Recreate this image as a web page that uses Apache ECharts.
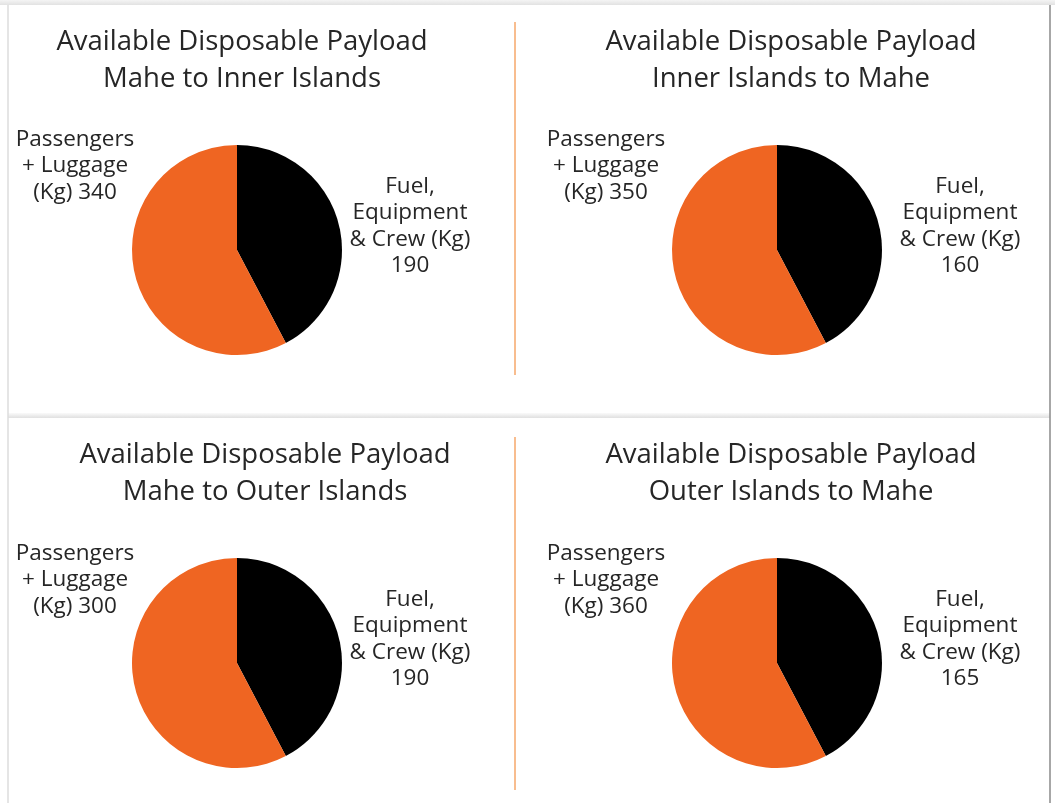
<!DOCTYPE html>
<html>
<head>
<meta charset="utf-8">
<script src="https://cdn.jsdelivr.net/npm/echarts@6/dist/echarts.min.js"></script>
<style>
html, body { margin: 0; padding: 0; background: #fff; }
#main { width: 1055px; height: 803px; }
</style>
</head>
<body>
<div id="main"></div>
<script>
// chart data
var titleLine1 = ['Available Disposable Payload', 'Available Disposable Payload', 'Available Disposable Payload', 'Available Disposable Payload'];
var titleLine2 = ['Mahe to Inner Islands', 'Inner Islands to Mahe', 'Mahe to Outer Islands', 'Outer Islands to Mahe'];
var passengerKg = [340, 350, 300, 360];
var fuelKg = [190, 160, 190, 165];
// slice sizes as drawn in the picture (percent of the pie)
var fuelShare = [42.3, 42.3, 42.3, 42.3];
var passengerShare = [57.7, 57.7, 57.7, 57.7];

var fuelColor = '#000000';
var passColor = '#ef6522';
var textColor = '#262626';
var font = '"Open Sans", sans-serif';

// layout of the four panels
var pieCenters = [[237, 250], [777, 250], [237, 663], [777, 663]];
var titleCenters = [[237, 56], [786, 56], [260, 469], [786, 469]];
var passLabelPos = [[75, 166], [606, 166], [75, 580], [606, 580]];
var fuelLabelPos = [[410, 226], [960, 226], [410, 639], [960, 639]];

var chart = echarts.init(document.getElementById('main'));

var titles = [];
var series = [];
for (var i = 0; i < 4; i++) {
	titles.push({
		text: titleLine1[i] + '\n' + titleLine2[i],
		left: titleCenters[i][0],
		top: titleCenters[i][1],
		textAlign: 'center',
		textVerticalAlign: 'middle',
		textStyle: {
			color: textColor,
			fontFamily: font,
			fontSize: 27.5,
			fontWeight: 'normal',
			lineHeight: 37
		}
	});
	(function(k){
		series.push({
			type: 'pie',
			center: pieCenters[k],
			radius: 105,
			startAngle: 90,
			clockwise: true,
			silent: true,
			animation: false,
			data: [
				{ name: 'Fuel,\nEquipment\n& Crew (Kg)\n' + fuelKg[k], value: fuelShare[k], itemStyle: { color: fuelColor } },
				{ name: 'Passengers\n+ Luggage\n(Kg) ' + passengerKg[k], value: passengerShare[k], itemStyle: { color: passColor } }
			],
			itemStyle: { borderWidth: 0 },
			label: {
				show: true,
				formatter: '{b}',
				color: textColor,
				fontFamily: font,
				fontSize: 22.5,
				lineHeight: 26.5,
				align: 'center',
				overflow: 'none',
				edgeDistance: 0,
				bleedMargin: 0
			},
			labelLine: { show: false },
			labelLayout: function(p){
				var pos = p.dataIndex === 0 ? fuelLabelPos[k] : passLabelPos[k];
				return { x: pos[0], y: pos[1], align: 'center', verticalAlign: 'middle' };
			}
		});
	})(i);
}

var option = {
	backgroundColor: '#ffffff',
	title: titles,
	graphic: [
		// top shadow
		{ type: 'rect', shape: { x: 0, y: 0, width: 1055, height: 5 }, style: {
			fill: new echarts.graphic.LinearGradient(0, 0, 0, 1, [{ offset: 0, color: '#f4f4f4' }, { offset: 1, color: '#e2e2e2' }]) }, silent: true },
		// shadow between the two rows
		{ type: 'rect', shape: { x: 8, y: 413, width: 1042, height: 5 }, style: {
			fill: new echarts.graphic.LinearGradient(0, 0, 0, 1, [{ offset: 0, color: '#fafafa' }, { offset: 1, color: '#e0e0e0' }]) }, silent: true },
		// panel borders
		{ type: 'line', shape: { x1: 8, y1: 5, x2: 8, y2: 803 }, style: { stroke: '#dcdcdc', lineWidth: 1.5 }, silent: true },
		{ type: 'line', shape: { x1: 1050, y1: 5, x2: 1050, y2: 803 }, style: { stroke: '#8a8a8a', lineWidth: 1.5 }, silent: true },
		// orange separators
		{ type: 'line', shape: { x1: 515, y1: 22, x2: 515, y2: 375 }, style: { stroke: '#f6a76a', lineWidth: 1.5 }, silent: true },
		{ type: 'line', shape: { x1: 515, y1: 437, x2: 515, y2: 790 }, style: { stroke: '#f6a76a', lineWidth: 1.5 }, silent: true }
	],
	series: series
};
chart.setOption(option);
</script>
</body>
</html>
